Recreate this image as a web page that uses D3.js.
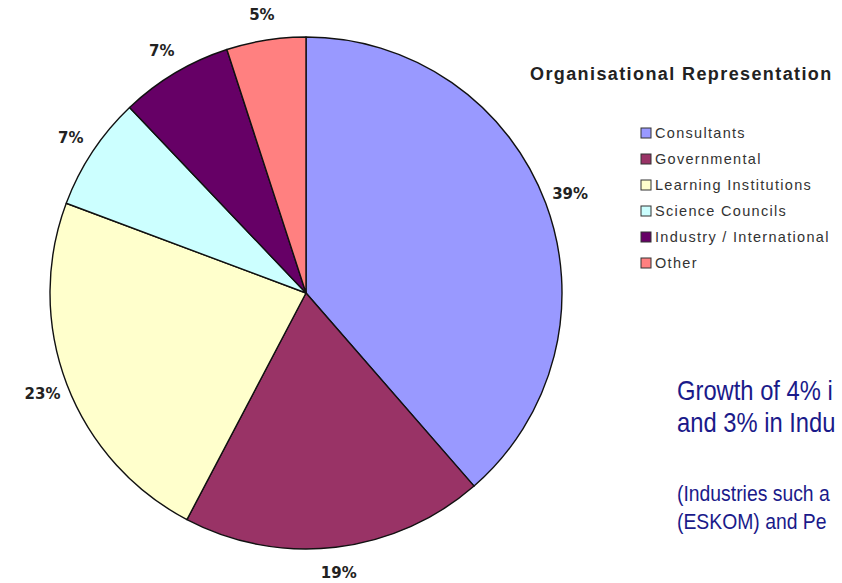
<!DOCTYPE html>
<html>
<head>
<meta charset="utf-8">
<script src="https://cdn.jsdelivr.net/npm/d3@7"></script>
<style>
  html, body { margin: 0; padding: 0; background: #fff; overflow: hidden; }
  svg { display: block; }
</style>
</head>
<body>
<div id="chart"></div>
<script>
// ---- data ----
const categories = ["Consultants", "Governmental", "Learning Institutions", "Science Councils", "Industry / International", "Other"];
const shares     = [38.6, 19.1, 23.0, 7.2, 7.1, 5.0];
const colors     = ["#9999ff", "#993366", "#ffffcc", "#ccffff", "#660066", "#ff8080"];
const titleText  = "Organisational Representation";
// side note: only the part visible in the source picture (it runs off the slide)
const noteLines  = ["Growth of 4% i", "and 3% in Indu"];
const subLines   = ["(Industries such a", "(ESKOM) and Pe"];

const W = 842, H = 583;
const cx = 306, cy = 293, R = 256;

const svg = d3.select("#chart").append("svg").attr("width", W).attr("height", H);

// pie
const rows = categories.map((c, i) => ({ name: c, v: shares[i], color: colors[i] }));
const pie = d3.pie().value(d => d.v).sort(null);
const arc = d3.arc().innerRadius(0).outerRadius(R);
const labelArc = d3.arc().innerRadius(R + 26).outerRadius(R + 26);

const g = svg.append("g").attr("transform", `translate(${cx},${cy})`);
const arcs = pie(rows);

g.selectAll("path.slice")
  .data(arcs)
  .join("path")
  .attr("class", "slice")
  .attr("d", arc)
  .attr("fill", d => d.data.color)
  .attr("stroke", "#111")
  .attr("stroke-width", 1.4)
  .attr("stroke-linejoin", "round");

g.selectAll("text.pct")
  .data(arcs)
  .join("text")
  .attr("class", "pct")
  .attr("transform", d => `translate(${labelArc.centroid(d)})`)
  .attr("text-anchor", "middle")
  .attr("dy", "0.35em")
  .style("font-family", "Verdana, 'DejaVu Sans', sans-serif")
  .style("font-size", "15px")
  .style("font-weight", "bold")
  .style("fill", "#222")
  .text(d => Math.round(d.data.v) + "%");

// title
svg.append("text")
  .attr("x", 530).attr("y", 80)
  .style("font-family", "Arial, 'Liberation Sans', sans-serif")
  .style("font-size", "18px")
  .style("font-weight", "bold")
  .style("letter-spacing", "1.4px")
  .style("fill", "#222")
  .text(titleText);

// legend
const ly = d3.scaleBand().domain(categories).range([120, 276]);
const leg = svg.append("g").selectAll("g")
  .data(rows)
  .join("g")
  .attr("transform", d => `translate(641,${ly(d.name) + ly.bandwidth() / 2})`);

leg.append("rect")
  .attr("x", 0).attr("y", -5)
  .attr("width", 10).attr("height", 10)
  .attr("fill", d => d.color)
  .attr("stroke", "#333")
  .attr("stroke-width", 1);

leg.append("text")
  .attr("x", 14).attr("dy", "0.36em")
  .style("font-family", "Arial, 'Liberation Sans', sans-serif")
  .style("font-size", "14.5px")
  .style("fill", "#333")
  .style("letter-spacing", "1.3px")
  .text(d => d.name);

// side note, squeezed to look like a narrow face
const note = svg.append("g")
  .attr("transform", "translate(677,0) scale(0.88,1)")
  .style("font-family", "'Liberation Sans', Arial, sans-serif")
  .style("fill", "#1a1a8a");

note.selectAll("text.big")
  .data(noteLines)
  .join("text")
  .attr("class", "big")
  .attr("x", 0)
  .attr("y", (d, i) => 400 + i * 32)
  .style("font-size", "27px")
  .text(d => d);

note.selectAll("text.small")
  .data(subLines)
  .join("text")
  .attr("class", "small")
  .attr("x", 0)
  .attr("y", (d, i) => 501 + i * 28)
  .style("font-size", "22px")
  .text(d => d);
</script>
</body>
</html>
